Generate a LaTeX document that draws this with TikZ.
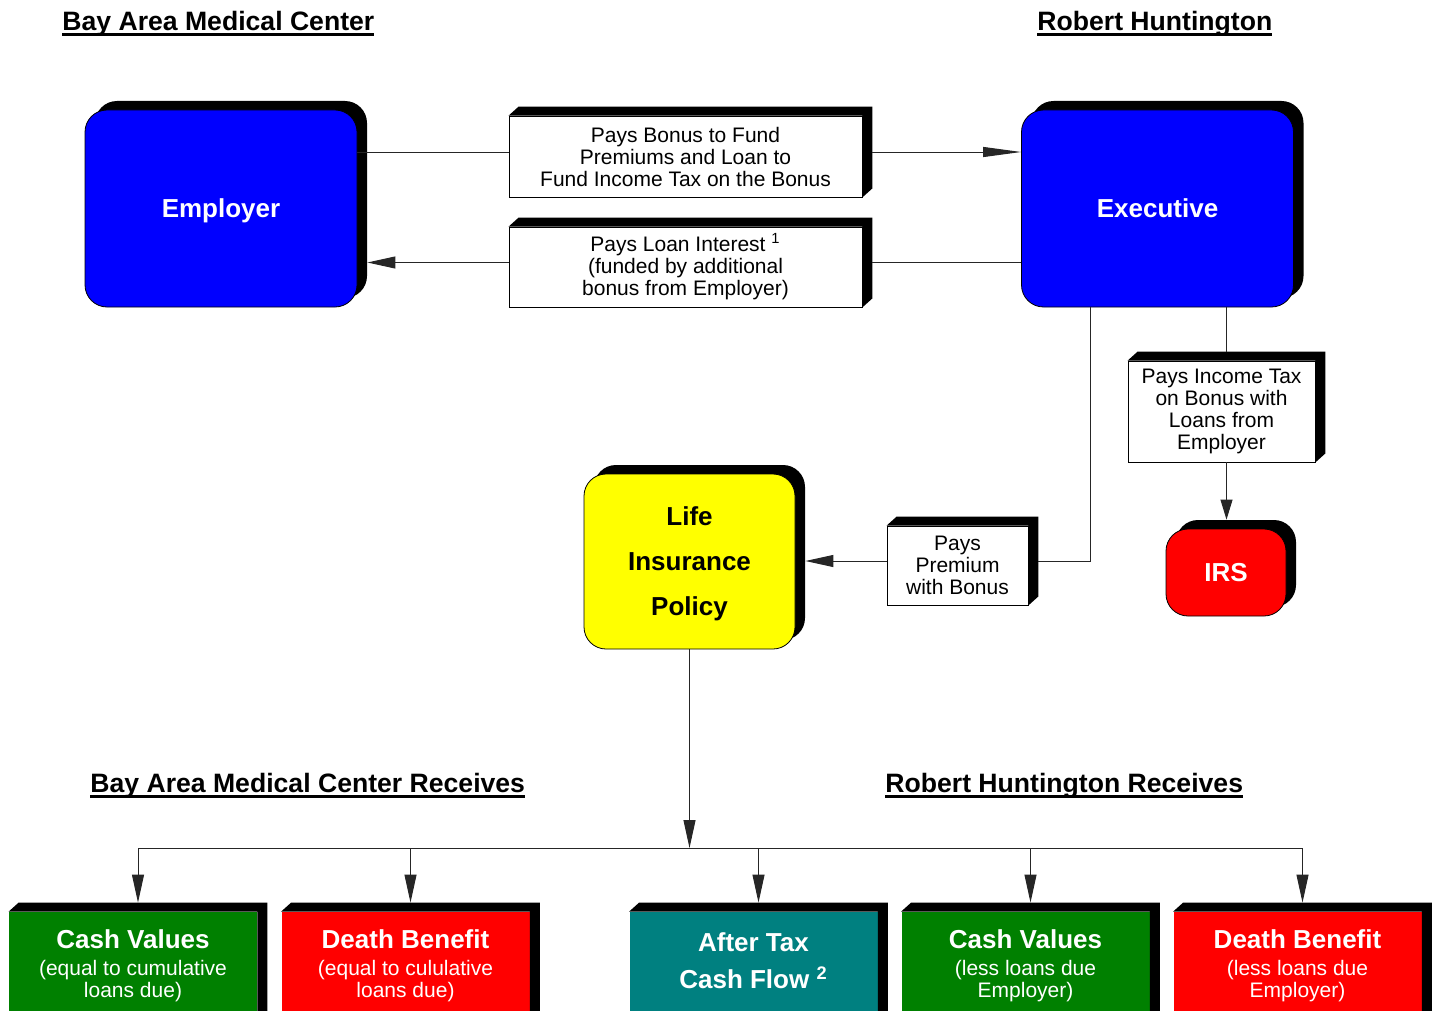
\documentclass[tikz,border=0pt]{standalone}
\usepackage{fontspec}
\setmainfont{Liberation Sans}
\usepackage{tikz}
\usetikzlibrary{arrows.meta,shadows}
\definecolor{PartyBlue}{RGB}{0,0,255}
\definecolor{PolicyYellow}{RGB}{255,255,0}
\definecolor{LossRed}{RGB}{255,0,0}
\definecolor{CashGreen}{RGB}{0,128,0}
\definecolor{FlowTeal}{RGB}{0,128,128}
% underline that runs through the descenders
\newcommand{\ulhead}[1]{\setbox0\hbox{#1}\rlap{\rule[-2.7pt]{\wd0}{1.3pt}}\box0}

\begin{document}
\begin{tikzpicture}[
  x=0.5pt, y=-0.5pt,
  every node/.style={align=center, inner sep=0pt},
  head/.style={anchor=base west, font=\fontsize{13.3}{15}\selectfont\bfseries},
  party/.style={draw=black, line width=0.4pt, rounded corners=11pt, text depth=0pt,
    drop shadow={shadow xshift=5pt, shadow yshift=4.5pt, fill=black, opacity=1},
    font=\fontsize{13}{22.5}\selectfont\bfseries},
  flow/.style={draw=black, fill=white, line width=0.4pt, font=\fontsize{10.5}{11}\selectfont},
  result/.style={text=white, minimum width=124pt, minimum height=54pt, font=\fontsize{10.5}{11}\selectfont},
  link/.style={draw=black!85, line width=0.5pt},
  arr/.style={link, -{Triangle[length=14pt, width=6pt]}},
  longarr/.style={link, -{Triangle[length=19pt, width=5pt]}}
]
\useasboundingbox (0,0) rectangle (1439,1011);
\clip (0,0) rectangle (1439,1011);

% headings
\node[head] (bamc) at (62,30.5) {\ulhead{Bay Area Medical Center}};
\node[head] (rh) at (1037,30.5) {\ulhead{Robert Huntington}};
\node[head] (bamcrec) at (90,792.5) {\ulhead{Bay Area Medical Center Receives}};
\node[head] (rhrec) at (885,792.5) {\ulhead{Robert Huntington Receives}};

% parties
\node[party, fill=PartyBlue, text=white, minimum width=136pt, minimum height=98.5pt] (employer) at (221,208.5) {Employer};
\node[party, fill=PartyBlue, text=white, minimum width=136pt, minimum height=98.5pt] (executive) at (1157.5,208.5) {Executive};
\node[party, fill=PolicyYellow, minimum width=105.5pt, minimum height=87.5pt, text depth=-1pt] (policy) at (689.5,561.5) {Life\\Insurance\\Policy};
\node[party, fill=LossRed, text=white, minimum width=60pt, minimum height=43.5pt] (irs) at (1226,572.5) {IRS};

% flow labels
\node[flow, minimum width=176.5pt, minimum height=40.5pt] (bonus) at (685.5,156.5) {Pays Bonus to Fund\\Premiums and Loan to\\Fund Income Tax on the Bonus};
\node[flow, minimum width=176.5pt, minimum height=40pt] (interest) at (685.5,267) {Pays Loan Interest \textsuperscript{1}\\(funded by additional\\bonus from Employer)};
\node[flow, minimum width=70.5pt, minimum height=39.5pt] (premium) at (957.5,565.5) {Pays\\Premium\\with Bonus};
\node[flow, minimum width=93.5pt, minimum height=50.5pt] (tax) at (1221.5,411.5) {Pays Income Tax\\on Bonus with\\Loans from\\Employer};

% what each side receives
\node[result, fill=CashGreen] (cvbamc) at (133,966) {{\fontsize{13}{13}\selectfont\bfseries Cash Values}\\[2.5pt](equal to cumulative\\loans due)};
\node[result, fill=LossRed] (dbbamc) at (405.5,966) {{\fontsize{13}{13}\selectfont\bfseries Death Benefit}\\[2.5pt](equal to cululative\\loans due)};
\node[result, fill=FlowTeal, font=\fontsize{13}{18.5}\selectfont\bfseries, text depth=5.7pt] (cashflow) at (753.5,966) {After Tax\\Cash Flow \textsuperscript{2}};
\node[result, fill=CashGreen] (cvrh) at (1025.5,966) {{\fontsize{13}{13}\selectfont\bfseries Cash Values}\\[2.5pt](less loans due\\Employer)};
\node[result, fill=LossRed] (dbrh) at (1297.5,966) {{\fontsize{13}{13}\selectfont\bfseries Death Benefit}\\[2.5pt](less loans due\\Employer)};

% 3d edges
\foreach \b in {bonus,interest,premium,tax,cvbamc,dbbamc,cashflow,cvrh,dbrh}
  \fill (\b.north west) -- ++(10,-9) -| ([shift={(10,-9)}]\b.south east) -- (\b.south east) -- (\b.north east) -- cycle;

% employer <-> executive
\coordinate (bonusin) at ([yshift=2.25pt]bonus.west);
\coordinate (bonusout) at ([shift={(5pt,2.25pt)}]bonus.east);
\draw[link] (employer.east |- bonusin) -- (bonusin);
\draw[longarr] (bonusout) -- (bonusout -| executive.west);
\coordinate (intin) at ([shift={(5pt,2.25pt)}]interest.east);
\coordinate (intout) at ([yshift=2.25pt]interest.west);
\coordinate (empedge) at ([xshift=5pt]employer.east);
\draw[link] (executive.west |- intin) -- (intin);
\draw[arr] (intout) -- (empedge |- intout);

% executive -> policy
\coordinate (premin) at ([shift={(5pt,2.25pt)}]premium.east);
\coordinate (premout) at ([yshift=2.25pt]premium.west);
\coordinate (execleft) at ([xshift=-33.75pt]executive.south);
\coordinate (policyedge) at ([xshift=5pt]policy.east);
\draw[link] (execleft) |- (premin);
\draw[arr] (premout) -- (premout -| policyedge);

% executive -> irs
\coordinate (taxin) at ([shift={(2.5pt,4.5pt)}]tax.north);
\coordinate (taxout) at ([xshift=2.5pt]tax.south);
\coordinate (irsedge) at ([yshift=4.5pt]irs.north);
\draw[link] (taxin |- executive.south) -- (taxin);
\draw[link, -{Triangle[length=10pt, width=6pt]}] (taxout) -- (taxout |- irsedge);

% policy -> receivers
\coordinate (bus) at (690,848);
\draw[arr] (policy.south) -- (policy.south |- bus);
\foreach \b in {cvbamc,dbbamc,cashflow,cvrh,dbrh} {
  \coordinate (in-\b) at ([shift={(2.5pt,4.5pt)}]\b.north);
  \draw[arr] (in-\b |- bus) -- (in-\b);
}
\draw[link] (in-cvbamc |- bus) -- (in-dbrh |- bus);
\end{tikzpicture}
\end{document}
